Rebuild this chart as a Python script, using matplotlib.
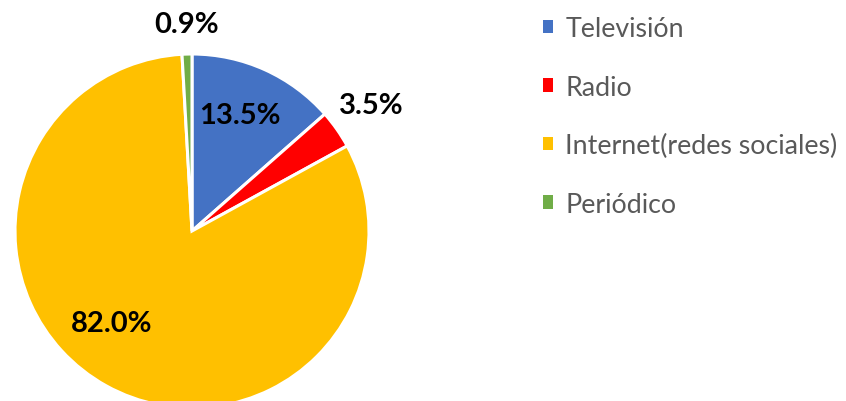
import numpy as np
import matplotlib
matplotlib.use("Agg")
import matplotlib.pyplot as plt

labels = ["Televisión", "Radio", "Internet(redes sociales)", "Periódico"]
values = [13.5, 3.5, 82.0, 0.9]
colors = ["#4472C4", "#FF0000", "#FFC000", "#70AD47"]
# how far from the centre each percentage sits (fraction of radius), and a small angle nudge
label_dist = [0.71, 1.24, 0.69, 1.17]
label_nudge = [2, 0, -12, 0]

W, H = 846, 402
fig = plt.figure(figsize=(W / 100, H / 100), dpi=100)
ax = fig.add_axes([0, 0, 1, 1])

cx, cy, r = 192, H - 232, 177
wedges, _ = ax.pie(values, colors=colors, startangle=90, counterclock=False,
                   center=(cx, cy), radius=r,
                   wedgeprops=dict(edgecolor="white", linewidth=2.2))
ax.set_xlim(0, W)
ax.set_ylim(0, H)
ax.set_aspect("equal")
ax.axis("off")

for w, v, d, n in zip(wedges, values, label_dist, label_nudge):
    ang = np.deg2rad((w.theta1 + w.theta2) / 2 + n)
    ax.text(cx + d * r * np.cos(ang), cy + d * r * np.sin(ang), f"{v:.1f}%",
            ha="center", va="center", fontsize=21, fontweight="bold",
            family="Lato", color="black")

leg = ax.legend(wedges, labels, loc="upper left", bbox_to_anchor=(543 / W, 1 - 17 / H),
                frameon=False, borderpad=0, borderaxespad=0,
                handlelength=0.38, handleheight=0.38, handletextpad=0.45,
                labelspacing=1.25, prop=dict(family="Lato", size=19.3))
for t in leg.get_texts():
    t.set_color("#595959")
for h in leg.legend_handles:
    h.set_edgecolor("none")

fig.savefig("out.png", dpi=100)
